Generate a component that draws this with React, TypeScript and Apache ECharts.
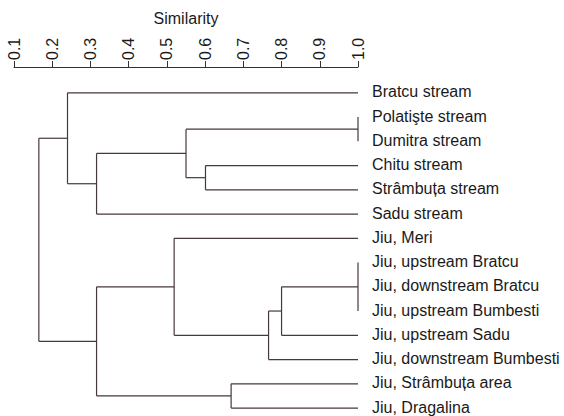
import React, { useEffect, useRef } from "react";
import * as echarts from "echarts";

// Leaf labels, top to bottom (dendrogram order)
const leafNames: string[] = [
  "Bratcu stream",
  "Polatişte stream",
  "Dumitra stream",
  "Chitu stream",
  "Strâmbuța stream",
  "Sadu stream",
  "Jiu, Meri",
  "Jiu, upstream Bratcu",
  "Jiu, downstream Bratcu",
  "Jiu, upstream Bumbesti",
  "Jiu, upstream Sadu",
  "Jiu, downstream Bumbesti",
  "Jiu, Strâmbuța area",
  "Jiu, Dragalina",
];

// Similarity of a leaf with itself
const leafSimilarity = 1.0;

// Merges: children refer to leaves (0..13) or earlier merges (14 + k)
const mergeChildren: number[][] = [
  [1, 2], // 14
  [3, 4], // 15
  [14, 15], // 16
  [16, 5], // 17
  [0, 17], // 18
  [7, 8, 9], // 19
  [19, 10], // 20
  [20, 11], // 21
  [6, 21], // 22
  [12, 13], // 23
  [22, 23], // 24
  [18, 24], // 25 root
];
const mergeSimilarity: number[] = [
  1.0, 0.601, 0.55, 0.316, 0.24, 1.0, 0.8, 0.766, 0.519, 0.668, 0.316, 0.165,
];

const tickValues: number[] = [0.1, 0.2, 0.3, 0.4, 0.5, 0.6, 0.7, 0.8, 0.9, 1.0];

const FONT = "'Liberation Sans', Arial, Helvetica, sans-serif";
const LINE = "#47373f";

function buildSegments(): number[][] {
  const nx: number[] = leafNames.map(() => leafSimilarity);
  const ny: number[] = leafNames.map((_, i) => i);
  const segs: number[][] = [];
  mergeChildren.forEach((ch, k) => {
    const h = mergeSimilarity[k];
    const ys = ch.map((c) => ny[c]);
    const lo = Math.min(...ys);
    const hi = Math.max(...ys);
    segs.push([h, lo, h, hi]);
    ch.forEach((c) => {
      if (nx[c] !== h) segs.push([h, ny[c], nx[c], ny[c]]);
    });
    nx.push(h);
    ny.push((lo + hi) / 2);
  });
  return segs;
}

export default function App() {
  const ref = useRef<HTMLDivElement>(null);
  useEffect(() => {
    if (!ref.current) return;
    const chart = echarts.init(ref.current, undefined, { renderer: "svg" });
    const segs = buildSegments();
    const labelData = leafNames.map((n, i) => [leafSimilarity, i, n]);
    chart.setOption({
      animation: false,
      grid: {
        left: 14,
        top: 67,
        width: 344,
        height: 348.3,
        outerBoundsMode: "none",
        containLabel: false,
      },
      xAxis: {
        type: "value",
        position: "top",
        min: tickValues[0],
        max: tickValues[tickValues.length - 1],
        interval: 0.1,
        name: "Similarity",
        nameLocation: "middle",
        nameGap: 41,
        nameMoveOverlap: false,
        nameTextStyle: {
          fontSize: 16,
          fontFamily: FONT,
          color: "#1a1a1a",
          verticalAlign: "bottom",
        },
        axisLine: {
          show: true,
          onZero: false,
          lineStyle: { color: "#333", width: 1 },
        },
        axisTick: { show: true, length: 6, lineStyle: { color: "#333" } },
        splitLine: { show: false },
        axisLabel: {
          rotate: -90,
          margin: 7,
          fontSize: 16,
          fontFamily: FONT,
          color: "#1a1a1a",
          formatter: (v: number) => v.toFixed(1),
        },
      },
      yAxis: {
        type: "value",
        inverse: true,
        min: -1.064,
        max: 13.3,
        show: false,
      },
      series: [
        {
          type: "custom",
          data: segs,
          encode: { x: [0, 2], y: [1, 3] },
          renderItem: (_p: any, api: any) => {
            const a = api.coord([api.value(0), api.value(1)]);
            const b = api.coord([api.value(2), api.value(3)]);
            return {
              type: "line",
              shape: { x1: a[0], y1: a[1], x2: b[0], y2: b[1] },
              style: { stroke: LINE, lineWidth: 1.2 },
            };
          },
        },
        {
          type: "custom",
          data: labelData,
          encode: { x: 0, y: 1 },
          renderItem: (p: any, api: any) => {
            const a = api.coord([api.value(0), api.value(1)]);
            return {
              type: "text",
              x: a[0] + 14,
              y: a[1] - 1,
              style: {
                text: leafNames[p.dataIndex],
                fill: "#1a1a1a",
                fontSize: 16,
                fontFamily: FONT,
                align: "left",
                verticalAlign: "middle",
              },
            };
          },
        },
      ],
    });
    return () => chart.dispose();
  }, []);
  return (
    <div
      ref={ref}
      style={{ position: "absolute", left: 0, top: 0, width: 564, height: 416 }}
    />
  );
}
